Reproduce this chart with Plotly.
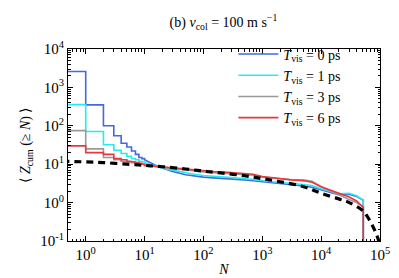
import plotly.graph_objects as go
import numpy as np

# ---- data ----
# head: integer-bin steps; tail: smoothly varying cumulative values
n_vals = [0.4, 1, 2, 3, 4, 5, 6, 7, 8, 9, 10, 15, 20, 30, 50, 70, 100, 150, 200, 300, 500, 700,
          1000, 1500, 2000, 3000, 5000, 7000, 10000, 15000, 20000, 30000, 40000, 50000, 52000]
n_step_count = 10  # first bins are drawn as steps
z_t0 = [2600, 350, 100, 55, 35, 28, 22, 18, 15, 14, 13, 9.5, 8.0, 6.5, 5.3, 4.9, 4.6, 4.4, 4.3, 4.1, 3.9, 3.7,
        3.5, 3.3, 3.2, 3.0, 2.7, 2.5, 2.1, 1.8, 1.6, 1.65, 1.45, 1.15, 0.01]
z_t1 = [355, 71, 32, 23, 19, 16, 14, 13, 12, 11.5, 11, 9.0, 8.0, 7.0, 6.0, 5.5, 5.1, 4.9, 4.7, 4.5, 4.2, 4.0,
        3.7, 3.5, 3.4, 3.2, 3.0, 2.8, 2.3, 1.9, 1.7, 1.75, 1.5, 1.2, 0.01]
z_t3 = [75, 25, 15, 13, 12, 11.5, 11, 10.5, 10.2, 10, 9.5, 8.8, 8.5, 7.8, 7.0, 6.6, 6.3, 6.0, 5.8, 5.6, 5.4, 5.2,
        4.6, 4.3, 4.1, 4.0, 3.9, 3.6, 2.6, 2.0, 1.6, 1.2, 1.0, 0.8, 0.01]
z_t6 = [30, 20, 18, 14, 13, 12, 11.5, 11, 10.5, 10, 9.3, 8.8, 8.5, 8.0, 7.3, 6.9, 6.6, 6.4, 6.3, 6.0, 5.7, 5.5,
        4.8, 4.4, 4.1, 3.9, 3.7, 3.4, 2.6, 2.1, 1.8, 1.4, 1.1, 0.75, 0.01]

n_fit = [0.4, 1, 2, 5, 10, 20, 50, 100, 200, 500, 1000, 2000, 5000, 10000, 20000, 30000, 50000,
         60000, 70000, 80000, 90000, 100000]
z_fit = [11.9, 11.5, 11, 10, 9.3, 8.6, 7.5, 6.6, 5.9, 5.0, 4.2, 3.5, 2.6, 1.75, 1.25, 1.0, 0.63,
         0.45, 0.3, 0.2, 0.13, 0.08]

labels = ["<i>T</i><sub>vis</sub> = 0 ps", "<i>T</i><sub>vis</sub> = 1 ps",
          "<i>T</i><sub>vis</sub> = 3 ps", "<i>T</i><sub>vis</sub> = 6 ps"]
colors = ["#4169e1", "#22eeee", "#999999", "#e8383d"]

x_tickvals = [1, 10, 100, 1000, 10000, 100000]
x_ticktext = ["10<sup>0</sup>", "10<sup>1</sup>", "10<sup>2</sup>", "10<sup>3</sup>",
              "10<sup>4</sup>", "10<sup>5</sup>"]
y_tickvals = [0.1, 1, 10, 100, 1000, 10000]
y_ticktext = ["10<sup>-1</sup>", "10<sup>0</sup>", "10<sup>1</sup>", "10<sup>2</sup>",
              "10<sup>3</sup>", "10<sup>4</sup>"]

font_family = "Liberation Serif"


def build_path(xs, ys, k):
    """Steps for the first k bins, then straight segments (final drop is vertical)."""
    px, py = [], []
    for i in range(len(xs)):
        if 0 < i <= k:
            px.append(xs[i]); py.append(ys[i - 1])
        if i == len(xs) - 1:
            px.append(xs[i]); py.append(ys[i - 1])
        px.append(xs[i]); py.append(ys[i])
    return px, py


fig = go.Figure()
for z, lab, col in zip([z_t0, z_t1, z_t3, z_t6], labels, colors):
    px, py = build_path(n_vals, z, n_step_count)
    fig.add_trace(go.Scatter(x=px, y=py, mode="lines", line=dict(color=col, width=1.6),
                             name=lab))
fig.add_trace(go.Scatter(x=n_fit, y=z_fit, mode="lines",
                         line=dict(color="black", width=3.2, dash="7px,5px", shape="spline"),
                         showlegend=False))

minor_x = [m * 10 ** e for e in range(-1, 5) for m in range(2, 10)]
minor_y = [m * 10 ** e for e in range(-1, 4) for m in range(2, 10)]

axis_common = dict(showline=True, linecolor="black", linewidth=1, mirror="ticks", ticks="inside",
                   ticklen=5, tickcolor="black", showgrid=False, zeroline=False,
                   tickfont=dict(family=font_family, size=15, color="black"))

fig.update_xaxes(type="log", range=[np.log10(0.5), 5], tickmode="array", tickvals=x_tickvals,
                 ticktext=x_ticktext,
                 minor=dict(tickmode="array", tickvals=minor_x, ticks="inside", ticklen=2.5,
                            tickcolor="black", showgrid=False),
                 title=dict(text="<i>N</i>", font=dict(family=font_family, size=14, color="black"),
                            standoff=2),
                 **axis_common)
fig.update_yaxes(type="log", range=[-1, 4], tickmode="array", tickvals=y_tickvals,
                 ticktext=y_ticktext,
                 minor=dict(tickmode="array", tickvals=minor_y, ticks="inside", ticklen=2.5,
                            tickcolor="black", showgrid=False),
                 title=dict(text="⟨ <i>Z</i><sub>cum</sub> (≥ <i>N</i>) ⟩",
                            font=dict(family=font_family, size=14, color="black"), standoff=6),
                 **axis_common)

fig.update_layout(
    width=399, height=278,
    margin=dict(l=60, r=27, t=41, b=45),
    paper_bgcolor="white", plot_bgcolor="white",
    title=dict(text="(b) <i>v</i><sub>col</sub> = 100 m s<sup>−1</sup>",
               font=dict(family=font_family, size=14, color="black"),
               x=0.54, xanchor="center", y=0.95, yanchor="middle"),
    legend=dict(x=0.53, y=1.055, xanchor="left", yanchor="top", bgcolor="rgba(0,0,0,0)",
                font=dict(family=font_family, size=14, color="black"), tracegroupgap=0,
                itemwidth=40),
    showlegend=True,
)

fig.write_html("out.html")
